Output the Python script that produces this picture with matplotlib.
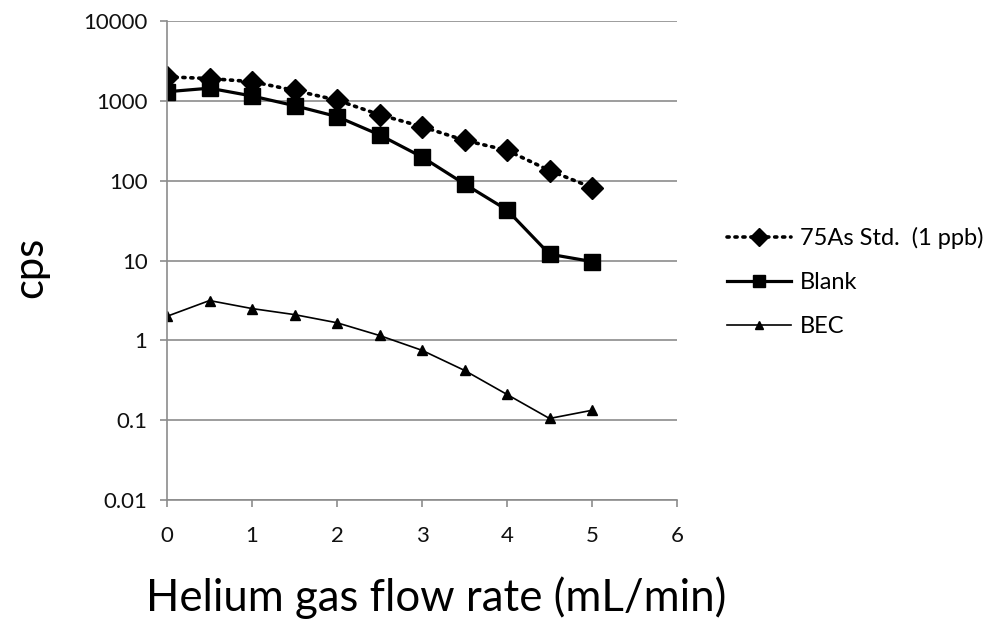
import matplotlib
matplotlib.use("Agg")
import matplotlib.pyplot as plt

plt.rcParams['font.family'] = ['Lato', 'DejaVu Sans']

flow_rate = [0, 0.5, 1, 1.5, 2, 2.5, 3, 3.5, 4, 4.5, 5]
as75_std = [2000, 1900, 1740, 1350, 1020, 670, 475, 320, 240, 134, 82]
blank = [1300, 1440, 1150, 870, 635, 375, 198, 91, 43, 12, 9.7]
bec = [2.0, 3.15, 2.5, 2.1, 1.66, 1.15, 0.75, 0.42, 0.21, 0.105, 0.133]

y_ticks = [0.01, 0.1, 1, 10, 100, 1000, 10000]
y_tick_labels = ['0.01', '0.1', '1', '10', '100', '1000', '10000']
x_ticks = [0, 1, 2, 3, 4, 5, 6]

fig = plt.figure(figsize=(9.93, 6.23), dpi=100)
ax = fig.add_axes([167 / 993, 1 - 500 / 623, 510 / 993, 479 / 623])

grid_col = '#8c8c8c'

ax.plot(flow_rate, as75_std, color='black', linestyle=(0, (0.6, 1.6)), linewidth=2.6,
        dash_capstyle='round', marker='D', markersize=11, label='75As Std.  (1 ppb)')
ax.plot(flow_rate, blank, color='black', linestyle='-', linewidth=2.3,
        marker='s', markersize=11, label='Blank')
ax.plot(flow_rate, bec, color='black', linestyle='-', linewidth=1.2,
        marker='^', markersize=7, label='BEC')

ax.set_yscale('log')
ax.set_ylim(0.01, 10000)
ax.set_xlim(0, 6)
ax.set_yticks(y_ticks)
ax.set_yticklabels(y_tick_labels)
ax.minorticks_off()
ax.set_xticks(x_ticks)
ax.set_xticklabels([str(v) for v in x_ticks])

ax.yaxis.grid(True, color=grid_col, linewidth=1.2)
ax.set_axisbelow(True)
for side in ['top', 'right']:
    ax.spines[side].set_visible(False)
for side in ['left', 'bottom']:
    ax.spines[side].set_color(grid_col)
    ax.spines[side].set_linewidth(1.2)
ax.tick_params(axis='both', colors=grid_col, length=5, width=1.2, labelsize=16,
               labelcolor='#111111')
ax.tick_params(axis='y', pad=9)
ax.tick_params(axis='x', pad=14)

fig.text(30 / 993, 1 - 267 / 623, 'cps', rotation=90, fontsize=30,
         ha='center', va='center')
fig.text(436 / 993, 1 - 598 / 623, 'Helium gas flow rate (mL/min)', fontsize=31.5,
         ha='center', va='center')

fig.legend(loc='upper left', bbox_to_anchor=(727 / 993, 1 - 227 / 623), frameon=False,
           fontsize=17, handlelength=2.7, handletextpad=0.4, labelspacing=0.98,
           borderpad=0, borderaxespad=0, markerscale=0.8)

fig.savefig('out.png', dpi=100)
